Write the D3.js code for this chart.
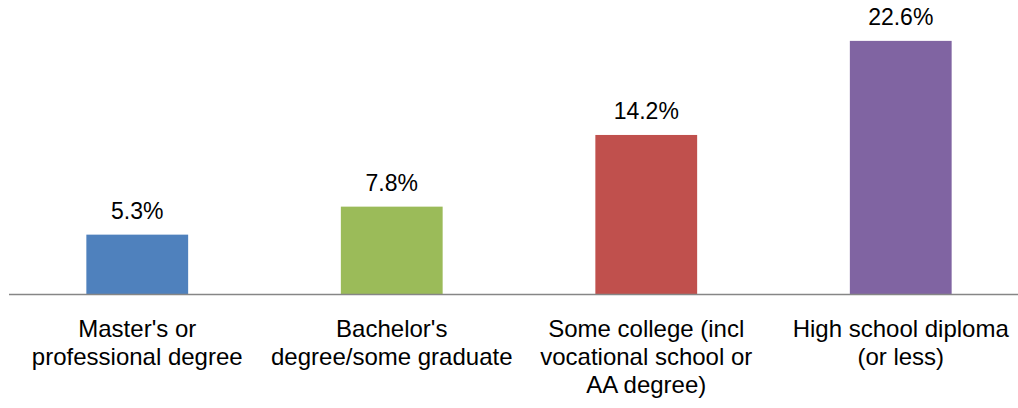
<!DOCTYPE html>
<html>
<head>
<meta charset="utf-8">
<script src="https://cdn.jsdelivr.net/npm/d3@7"></script>
<style>
  html, body { margin: 0; padding: 0; background: #fff; }
  svg { display: block; font-family: "Liberation Sans", Arial, sans-serif; }
</style>
</head>
<body>
<svg id="chart" width="1018" height="408"></svg>
<script>
// Share by highest education level
const categories = [
  ["Master's or", "professional degree"],
  ["Bachelor's", "degree/some graduate"],
  ["Some college (incl", "vocational school or", "AA degree)"],
  ["High school diploma", "(or less)"]
];
const values = [5.3, 7.8, 14.2, 22.6];
const colors = ["#4F81BD", "#9BBB59", "#C0504D", "#8064A2"];

const svg = d3.select("#chart");
const keys = categories.map((c, i) => i);

const x = d3.scaleBand()
  .domain(keys)
  .range([10, 1028])
  .paddingInner(0.6)
  .paddingOuter(0.3);

const y = d3.scaleLinear()
  .domain([0, 25])
  .range([294, 14]);

// bars
svg.append("g")
  .selectAll("rect")
  .data(values)
  .join("rect")
  .attr("x", (d, i) => x(i))
  .attr("y", d => y(d))
  .attr("width", x.bandwidth())
  .attr("height", d => y(0) - y(d))
  .attr("fill", (d, i) => colors[i]);

// value labels
svg.append("g")
  .selectAll("text")
  .data(values)
  .join("text")
  .attr("x", (d, i) => x(i) + x.bandwidth() / 2)
  .attr("y", d => y(d) - 16)
  .attr("text-anchor", "middle")
  .attr("font-size", 23)
  .attr("fill", "#000")
  .text(d => d.toFixed(1) + "%");

// category axis
const axis = svg.append("g")
  .attr("transform", `translate(0,${y(0)})`)
  .call(d3.axisBottom(x).tickSize(0).tickFormat(""));
axis.select(".domain")
  .attr("d", `M9,0.5H1018`)
  .attr("stroke", "#868686")
  .attr("stroke-width", 1.3);

axis.selectAll(".tick text").remove();
axis.selectAll(".tick")
  .append("text")
  .attr("text-anchor", "middle")
  .attr("font-size", 24)
  .attr("fill", "#000")
  .selectAll("tspan")
  .data(i => categories[i])
  .join("tspan")
  .attr("x", 0)
  .attr("y", (d, j) => 43 + j * 28)
  .text(d => d);
</script>
</body>
</html>
